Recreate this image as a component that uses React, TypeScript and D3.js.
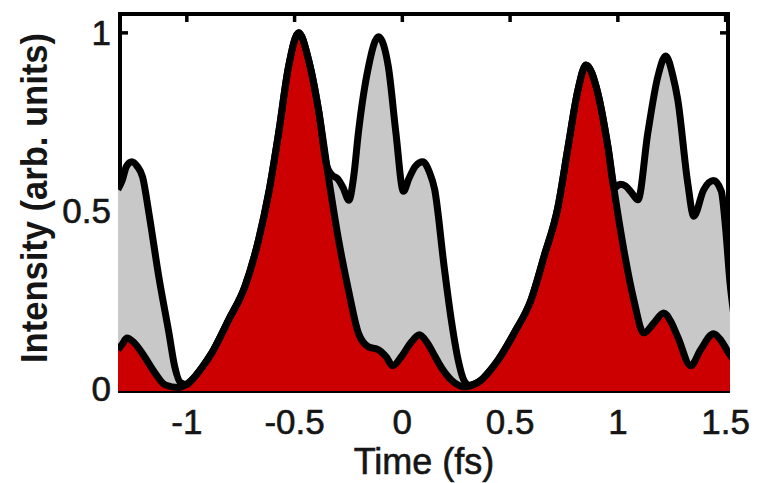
import React from 'react';
import * as d3 from 'd3';

// Upper (gray) intensity envelope
const grayTime = [-1.32, -1.3, -1.28, -1.255, -1.23, -1.205, -1.176, -1.13, -1.083, -1.056, -1.03, -1.0, -0.977, -0.93, -0.884, -0.806, -0.731, -0.667, -0.62, -0.574, -0.528, -0.481, -0.435, -0.389, -0.35, -0.325, -0.3, -0.275, -0.248, -0.225, -0.204, -0.157, -0.111, -0.065, -0.03, 0.005, 0.03, 0.06, 0.095, 0.125, 0.15, 0.194, 0.227, 0.259, 0.285, 0.31, 0.34, 0.366, 0.405, 0.444, 0.519, 0.597, 0.657, 0.722, 0.769, 0.815, 0.852, 0.907, 0.954, 0.985, 1.01, 1.035, 1.065, 1.093, 1.139, 1.185, 1.222, 1.255, 1.278, 1.324, 1.352, 1.398, 1.444, 1.48, 1.5, 1.52, 1.54];
const grayIntensity = [0.56, 0.585, 0.625, 0.638, 0.625, 0.595, 0.494, 0.315, 0.157, 0.062, 0.018, 0.012, 0.025, 0.06, 0.101, 0.194, 0.287, 0.419, 0.551, 0.719, 0.905, 1.0, 0.924, 0.784, 0.625, 0.6, 0.59, 0.565, 0.53, 0.6, 0.719, 0.905, 0.989, 0.905, 0.72, 0.555, 0.59, 0.625, 0.638, 0.61, 0.56, 0.343, 0.194, 0.081, 0.025, 0.01, 0.015, 0.025, 0.05, 0.081, 0.157, 0.25, 0.371, 0.511, 0.68, 0.84, 0.91, 0.831, 0.68, 0.565, 0.575, 0.57, 0.55, 0.531, 0.719, 0.876, 0.935, 0.88, 0.812, 0.579, 0.485, 0.559, 0.585, 0.555, 0.45, 0.3, 0.2];

// Lower (red) intensity
const redTime = [-1.32, -1.3, -1.278, -1.245, -1.208, -1.148, -1.1, -1.04, -0.977, -0.93, -0.884, -0.806, -0.731, -0.667, -0.62, -0.574, -0.528, -0.481, -0.435, -0.389, -0.343, -0.296, -0.25, -0.204, -0.157, -0.111, -0.075, -0.045, -0.005, 0.04, 0.079, 0.115, 0.148, 0.181, 0.227, 0.287, 0.34, 0.366, 0.405, 0.444, 0.519, 0.597, 0.657, 0.722, 0.769, 0.815, 0.852, 0.907, 0.954, 0.985, 1.028, 1.074, 1.12, 1.167, 1.213, 1.245, 1.278, 1.338, 1.384, 1.444, 1.48, 1.515, 1.54];
const redIntensity = [0.11, 0.125, 0.143, 0.13, 0.101, 0.045, 0.011, 0.004, 0.025, 0.06, 0.101, 0.194, 0.287, 0.419, 0.551, 0.719, 0.905, 1.0, 0.924, 0.784, 0.596, 0.419, 0.278, 0.157, 0.118, 0.11, 0.09, 0.065, 0.09, 0.13, 0.152, 0.13, 0.095, 0.06, 0.025, 0.006, 0.015, 0.025, 0.05, 0.081, 0.157, 0.25, 0.371, 0.511, 0.68, 0.84, 0.91, 0.831, 0.68, 0.55, 0.39, 0.25, 0.157, 0.185, 0.213, 0.19, 0.146, 0.065, 0.11, 0.155, 0.135, 0.1, 0.08];

const xTicks = [-1, -0.5, 0, 0.5, 1, 1.5];
const xTickLabels = ['-1', '-0.5', '0', '0.5', '1', '1.5'];
const yTicks = [0, 0.5, 1];
const yTickLabels = ['0', '0.5', '1'];

export default function App() {
  const W = 757;
  const H = 483;
  const left = 120;
  const right = 728;
  const top = 14;
  const bottom = 391;
  const x = d3.scaleLinear().domain([-1.31, 1.511]).range([left, right]);
  const y = d3.scaleLinear().domain([-0.006, 1.053]).range([bottom, top]);

  const gray = grayTime.map((t, i) => [t, grayIntensity[i]] as [number, number]);
  const red = redTime.map((t, i) => [t, redIntensity[i]] as [number, number]);

  const area = d3
    .area<[number, number]>()
    .x((d) => x(d[0]))
    .y0(bottom)
    .y1((d) => y(d[1]))
    .curve(d3.curveMonotoneX);
  const line = d3
    .line<[number, number]>()
    .x((d) => x(d[0]))
    .y((d) => y(d[1]))
    .curve(d3.curveMonotoneX);

  const font = 'Liberation Sans, Arial, sans-serif';
  const txt = '#151515';

  return (
    <svg
      width={W}
      height={H}
      style={{ position: 'absolute', left: 0, top: 0, background: '#fff' }}
    >
      <defs>
        <clipPath id="plotClip">
          <rect x={118} y={0} width={612} height={bottom + 1} />
        </clipPath>
      </defs>
      <rect x={0} y={0} width={W} height={H} fill="#fff" />

      {/* red title, cut off by the top edge as in the reference */}
      <text x={323} y={-8} fontSize={36} fill="#e00000" textAnchor="middle" fontFamily={font}>(</text>
      <text x={435} y={-8} fontSize={36} fill="#e00000" textAnchor="middle" fontFamily={font}>)</text>

      {/* frame */}
      <rect x={left} y={top} width={right - left} height={bottom - top} fill="none" stroke="#000" strokeWidth={4} />
      {xTicks.map((t) => (
        <line key={'xt' + t} x1={x(t)} x2={x(t)} y1={top} y2={top + 8} stroke="#000" strokeWidth={3.5} />
      ))}
      {yTicks.map((v) => (
        <g key={'yt' + v}>
          <line x1={left} x2={left + 8} y1={y(v)} y2={y(v)} stroke="#000" strokeWidth={3.5} />
          <line x1={right - 8} x2={right} y1={y(v)} y2={y(v)} stroke="#000" strokeWidth={3.5} />
        </g>
      ))}

      <g clipPath="url(#plotClip)">
        <path d={area(gray) || ''} fill="#c8c8c8" />
        <path d={area(red) || ''} fill="#cc0000" />
        <path d={line(gray) || ''} fill="none" stroke="#000" strokeWidth={7} strokeLinejoin="round" />
        <path d={line(red) || ''} fill="none" stroke="#000" strokeWidth={7} strokeLinejoin="round" />
      </g>

      {/* tick labels */}
      {xTicks.map((t, i) => (
        <text key={'xl' + t} x={x(t)} y={434} fontSize={35} fill={txt} stroke={txt} strokeWidth={0.6} textAnchor="middle" fontFamily={font}>
          {xTickLabels[i]}
        </text>
      ))}
      {yTicks.map((v, i) => (
        <text key={'yl' + v} x={111} y={y(v) + 12} fontSize={35} fill={txt} stroke={txt} strokeWidth={0.6} textAnchor="end" fontFamily={font}>
          {yTickLabels[i]}
        </text>
      ))}

      <text x={(left + right) / 2} y={474} fontSize={36} fill={txt} stroke={txt} strokeWidth={0.6} textAnchor="middle" fontFamily={font}>
        Time (fs)
      </text>
      <text
        transform={`translate(47,198) rotate(-90)`}
        fontSize={36}
        fontWeight="bold"
        fill={txt}
        textAnchor="middle"
        fontFamily={font}
        textLength={330}
        lengthAdjust="spacingAndGlyphs"
      >
        Intensity (arb. units)
      </text>
    </svg>
  );
}
